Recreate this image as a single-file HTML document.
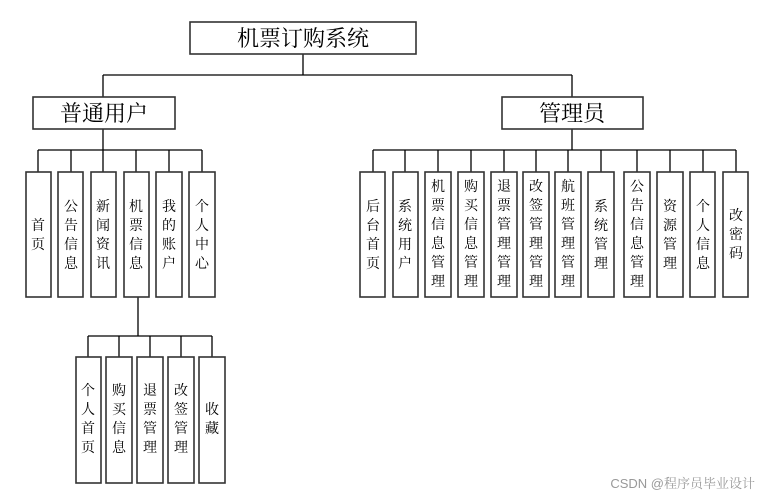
<!DOCTYPE html>
<html><head><meta charset="utf-8"><style>
body{margin:0;background:#fff;width:762px;height:497px;overflow:hidden}
svg text{font-family:"Liberation Sans","SimSun","Noto Serif CJK SC","Noto Sans CJK SC",sans-serif;fill:#000}
</style></head><body>
<svg width="762" height="497" xmlns="http://www.w3.org/2000/svg">
<g stroke="#000" stroke-width="1.3" fill="none">
<path d="M303 54V75M103 75H572M103 75V97M572 75V97"/>
<path d="M103 129V150M38 150H202M38 150V172M71 150V172M103 150V172M136 150V172M169 150V172M202 150V172"/>
<path d="M572 129V150M373 150H736M373 150V172M405 150V172M438 150V172M471 150V172M504 150V172M536 150V172M568 150V172M601 150V172M637 150V172M670 150V172M703 150V172M736 150V172"/>
<path d="M138 297V336M88 336H212M88 336V357M119 336V357M150 336V357M181 336V357M212 336V357"/>
</g>
<g stroke="#333" stroke-width="1.6" fill="#fff">
<rect x="190" y="22" width="226" height="32"/>
<rect x="33" y="97" width="142" height="32"/>
<rect x="502" y="97" width="141" height="32"/>
</g>
<g font-size="22" text-anchor="middle">
<text x="303" y="46">机票订购系统</text>
<text x="104" y="121">普通用户</text>
<text x="572" y="121">管理员</text>
</g>
<g id="boxes" stroke="#333" stroke-width="1.6" fill="#fff">
<rect x="26" y="172" width="25" height="125"/><rect x="58" y="172" width="25" height="125"/><rect x="91" y="172" width="25" height="125"/><rect x="124" y="172" width="25" height="125"/><rect x="156" y="172" width="26" height="125"/><rect x="189" y="172" width="26" height="125"/>
<rect x="360" y="172" width="25" height="125"/><rect x="393" y="172" width="25" height="125"/><rect x="425" y="172" width="26" height="125"/><rect x="458" y="172" width="26" height="125"/><rect x="491" y="172" width="26" height="125"/><rect x="523" y="172" width="26" height="125"/><rect x="555" y="172" width="26" height="125"/><rect x="588" y="172" width="26" height="125"/><rect x="624" y="172" width="26" height="125"/><rect x="657" y="172" width="26" height="125"/><rect x="690" y="172" width="25" height="125"/><rect x="723" y="172" width="25" height="125"/>
<rect x="76" y="357" width="25" height="126"/><rect x="106" y="357" width="26" height="126"/><rect x="137" y="357" width="26" height="126"/><rect x="168" y="357" width="26" height="126"/><rect x="199" y="357" width="26" height="126"/>
</g>
<g font-size="14" text-anchor="middle">
<text x="38" y="234"><tspan x="38" y="230">首</tspan><tspan x="38" dy="19">页</tspan></text>
<text><tspan x="71" y="211">公</tspan><tspan x="71" dy="19">告</tspan><tspan x="71" dy="19">信</tspan><tspan x="71" dy="19">息</tspan></text>
<text><tspan x="103" y="211">新</tspan><tspan x="103" dy="19">闻</tspan><tspan x="103" dy="19">资</tspan><tspan x="103" dy="19">讯</tspan></text>
<text><tspan x="136" y="211">机</tspan><tspan x="136" dy="19">票</tspan><tspan x="136" dy="19">信</tspan><tspan x="136" dy="19">息</tspan></text>
<text><tspan x="169" y="211">我</tspan><tspan x="169" dy="19">的</tspan><tspan x="169" dy="19">账</tspan><tspan x="169" dy="19">户</tspan></text>
<text><tspan x="202" y="211">个</tspan><tspan x="202" dy="19">人</tspan><tspan x="202" dy="19">中</tspan><tspan x="202" dy="19">心</tspan></text>

<text><tspan x="373" y="211">后</tspan><tspan x="373" dy="19">台</tspan><tspan x="373" dy="19">首</tspan><tspan x="373" dy="19">页</tspan></text>
<text><tspan x="405" y="211">系</tspan><tspan x="405" dy="19">统</tspan><tspan x="405" dy="19">用</tspan><tspan x="405" dy="19">户</tspan></text>
<text><tspan x="438" y="191">机</tspan><tspan x="438" dy="19">票</tspan><tspan x="438" dy="19">信</tspan><tspan x="438" dy="19">息</tspan><tspan x="438" dy="19">管</tspan><tspan x="438" dy="19">理</tspan></text>
<text><tspan x="471" y="191">购</tspan><tspan x="471" dy="19">买</tspan><tspan x="471" dy="19">信</tspan><tspan x="471" dy="19">息</tspan><tspan x="471" dy="19">管</tspan><tspan x="471" dy="19">理</tspan></text>
<text><tspan x="504" y="191">退</tspan><tspan x="504" dy="19">票</tspan><tspan x="504" dy="19">管</tspan><tspan x="504" dy="19">理</tspan><tspan x="504" dy="19">管</tspan><tspan x="504" dy="19">理</tspan></text>
<text><tspan x="536" y="191">改</tspan><tspan x="536" dy="19">签</tspan><tspan x="536" dy="19">管</tspan><tspan x="536" dy="19">理</tspan><tspan x="536" dy="19">管</tspan><tspan x="536" dy="19">理</tspan></text>
<text><tspan x="568" y="191">航</tspan><tspan x="568" dy="19">班</tspan><tspan x="568" dy="19">管</tspan><tspan x="568" dy="19">理</tspan><tspan x="568" dy="19">管</tspan><tspan x="568" dy="19">理</tspan></text>
<text><tspan x="601" y="211">系</tspan><tspan x="601" dy="19">统</tspan><tspan x="601" dy="19">管</tspan><tspan x="601" dy="19">理</tspan></text>
<text><tspan x="637" y="191">公</tspan><tspan x="637" dy="19">告</tspan><tspan x="637" dy="19">信</tspan><tspan x="637" dy="19">息</tspan><tspan x="637" dy="19">管</tspan><tspan x="637" dy="19">理</tspan></text>
<text><tspan x="670" y="211">资</tspan><tspan x="670" dy="19">源</tspan><tspan x="670" dy="19">管</tspan><tspan x="670" dy="19">理</tspan></text>
<text><tspan x="703" y="211">个</tspan><tspan x="703" dy="19">人</tspan><tspan x="703" dy="19">信</tspan><tspan x="703" dy="19">息</tspan></text>
<text><tspan x="736" y="220">改</tspan><tspan x="736" dy="19">密</tspan><tspan x="736" dy="19">码</tspan></text>

<text><tspan x="88" y="395">个</tspan><tspan x="88" dy="19">人</tspan><tspan x="88" dy="19">首</tspan><tspan x="88" dy="19">页</tspan></text>
<text><tspan x="119" y="395">购</tspan><tspan x="119" dy="19">买</tspan><tspan x="119" dy="19">信</tspan><tspan x="119" dy="19">息</tspan></text>
<text><tspan x="150" y="395">退</tspan><tspan x="150" dy="19">票</tspan><tspan x="150" dy="19">管</tspan><tspan x="150" dy="19">理</tspan></text>
<text><tspan x="181" y="395">改</tspan><tspan x="181" dy="19">签</tspan><tspan x="181" dy="19">管</tspan><tspan x="181" dy="19">理</tspan></text>
<text><tspan x="212" y="414">收</tspan><tspan x="212" dy="19">藏</tspan></text>
</g>
<text x="755" y="488" font-size="13" text-anchor="end" style="fill:#999">CSDN @程序员毕业设计</text>
</svg>
</body></html>
